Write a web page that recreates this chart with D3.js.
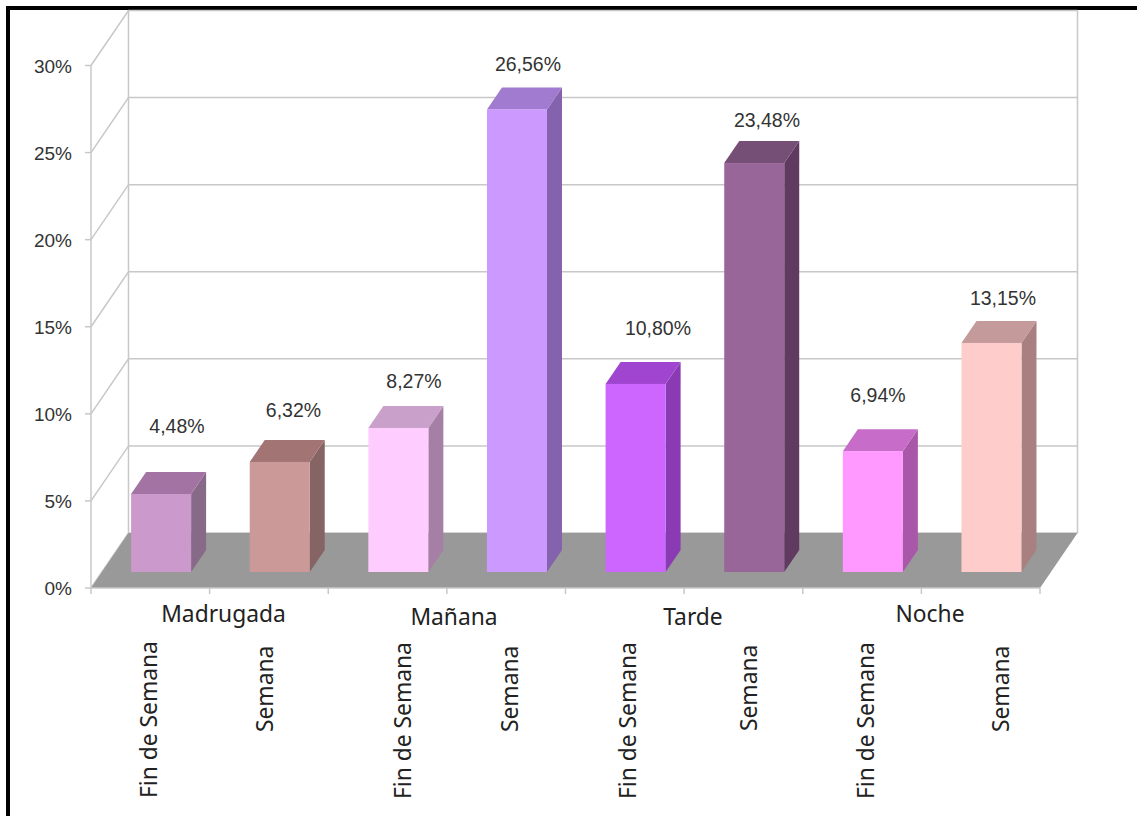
<!DOCTYPE html>
<html><head><meta charset="utf-8">
<script src="https://cdn.jsdelivr.net/npm/d3@7"></script>
<style>html,body{margin:0;padding:0;background:#fff}svg{display:block}</style>
</head><body><svg id="c" width="1137" height="816"></svg>
<script>
const periods = ["Madrugada","Mañana","Tarde","Noche"];
const groupLabels = ["Fin de Semana","Semana","Fin de Semana","Semana","Fin de Semana","Semana","Fin de Semana","Semana"];
const values = [4.48,6.32,8.27,26.56,10.80,23.48,6.94,13.15];
const valueLabels = ["4,48%","6,32%","8,27%","26,56%","10,80%","23,48%","6,94%","13,15%"];
const frontColors = ["#cc99cc","#cc9999","#ffccff","#cc99ff","#cc66ff","#996699","#ff99ff","#ffcccc"];
const topColors = ["#a374a3","#a37474","#c9a0c9","#a07bcf","#a045cf","#754f75","#c76cc9","#c49a9a"];
const sideColors = ["#876a87","#876464","#a67fa6","#8562ad","#8a3bb3","#613a61","#a958a9","#a88080"];
const yTicks = [0,5,10,15,20,25,30];

// text placement, kept apart from the data
const periodPos = [[223.5,622],[454,625],[693,625],[930,622]];
const groupPos = [[157,798],[273,732],[411,799],[518,732],[636,799],[757,731],[874,799],[1009,732]];
const valuePos = [[177,433],[293.5,417],[414,388],[528,71],[658,335],[767,127],[878,402],[1003,305]];

const svg = d3.select("#c");
const y = d3.scaleLinear().domain([0,30]).range([588,65.5]);
const x = d3.scaleBand().domain(d3.range(values.length)).range([91,1040]);
const D = {dx:37.5, dy:-55};
const B = {dx:15, dy:-22, off:10.6, ody:-16};
const grid = "#c8c8c8", txt = "#333", dark = "#222";

svg.append("path").attr("d","M8,816V8H1137").attr("fill","none").attr("stroke","#000").attr("stroke-width",4);

const g = svg.append("g");
yTicks.forEach(t=>{
  g.append("path").attr("fill","none").attr("stroke",grid).attr("stroke-width",1.5)
   .attr("d",`M${91},${y(t)}L${91+D.dx},${y(t)+D.dy}L${1040+D.dx},${y(t)+D.dy}`);
  g.append("line").attr("x1",85).attr("x2",91).attr("y1",y(t)).attr("y2",y(t)).attr("stroke",grid).attr("stroke-width",1.5);
  g.append("text").attr("x",72).attr("y",y(t)+7).attr("text-anchor","end")
   .attr("font-family","Liberation Sans").attr("font-size",19).attr("fill",txt).text(t+"%");
});
[[91,0],[91+D.dx,D.dy],[1040+D.dx,D.dy]].forEach(([px,o])=>{
  g.append("line").attr("x1",px).attr("x2",px).attr("y1",y(0)+o).attr("y2",y(30)+o).attr("stroke",grid).attr("stroke-width",1.5);
});

g.append("path").attr("fill","#999").attr("d",
 `M91,${y(0)}L${91+D.dx},${y(0)+D.dy}L${1040+D.dx},${y(0)+D.dy}L1040,${y(0)}Z`);
g.append("line").attr("x1",91).attr("x2",1040).attr("y1",y(0)).attr("y2",y(0)).attr("stroke",grid).attr("stroke-width",1.5);
d3.range(values.length+1).forEach(i=>{
  const px = i<values.length ? x(i) : 1040;
  g.append("line").attr("x1",px).attr("x2",px).attr("y1",y(0)).attr("y2",y(0)+6).attr("stroke",grid).attr("stroke-width",1.5);
});

const barW = 60, inset = 29.5;
const h = v => y(0)-y(v);
svg.append("g").selectAll("g").data(values).join("g").each(function(v,i){
  const s = d3.select(this);
  const x0 = x(i)+B.off+inset, x1 = x0+barW;
  const yb = y(0)+B.ody, yt = yb-h(v);
  s.append("path").attr("fill",sideColors[i]).attr("d",`M${x1},${yb}L${x1+B.dx},${yb+B.dy}L${x1+B.dx},${yt+B.dy}L${x1},${yt}Z`);
  s.append("path").attr("fill",topColors[i]).attr("d",`M${x0},${yt}L${x0+B.dx},${yt+B.dy}L${x1+B.dx},${yt+B.dy}L${x1},${yt}Z`);
  s.append("rect").attr("x",x0).attr("y",yt).attr("width",barW).attr("height",yb-yt).attr("fill",frontColors[i]);
  s.append("text").attr("x",valuePos[i][0]).attr("y",valuePos[i][1]).attr("text-anchor","middle")
   .attr("font-family","Liberation Sans").attr("font-size",19.5).attr("fill",txt).text(valueLabels[i]);
  svg.append("text").attr("transform",`translate(${groupPos[i][0]},${groupPos[i][1]}) rotate(-90)`)
   .attr("font-family","Noto Sans").attr("font-size",22.8).attr("fill",dark).text(groupLabels[i]);
});

svg.append("g").selectAll("text").data(periods).join("text")
  .attr("x",(d,i)=>periodPos[i][0]).attr("y",(d,i)=>periodPos[i][1]).attr("text-anchor","middle")
  .attr("font-family","Noto Sans").attr("font-size",22.8).attr("fill",dark).text(d=>d);
</script></body></html>
